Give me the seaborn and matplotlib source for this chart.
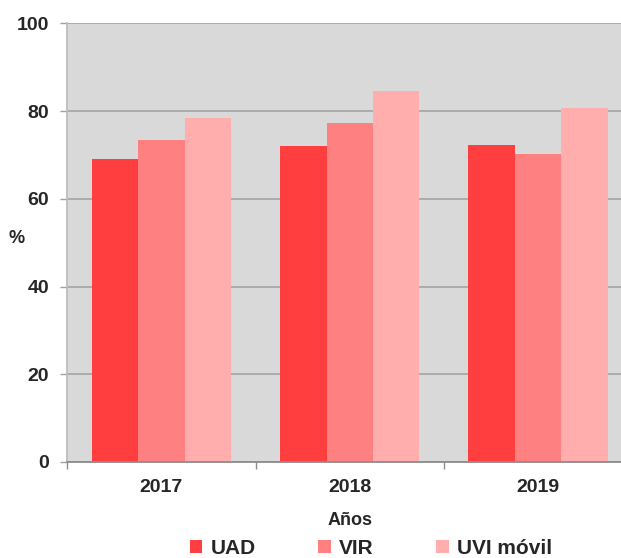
import matplotlib
matplotlib.use("Agg")
import matplotlib.pyplot as plt
import seaborn as sns
import pandas as pd
from matplotlib.patches import Patch

years = ["2017", "2018", "2019"]
series = ["UAD", "VIR", "UVI móvil"]
uad = [69.1, 72.0, 72.2]
vir = [73.3, 77.3, 70.3]
uvi = [78.4, 84.6, 80.7]
yticks = [0, 20, 40, 60, 80, 100]
colors = ["#FF3F3F", "#FF8080", "#FFADAD"]

rows = []
for name, vals in zip(series, [uad, vir, uvi]):
    for y, v in zip(years, vals):
        rows.append({"Año": y, "Serie": name, "Valor": v})
df = pd.DataFrame(rows)

sns.set_theme(style="white")
plt.rcParams["font.family"] = ["Liberation Sans", "DejaVu Sans"]
plt.rcParams["font.weight"] = "bold"

fig = plt.figure(figsize=(6.21, 5.58), dpi=100)
W, H = 621, 558
ax = fig.add_axes([67.3 / W, 1 - 462 / H, (632.3 - 67.3) / W, (462 - 23.3) / H])
ax.set_facecolor("#D9D9D9")

sns.barplot(data=df, x="Año", y="Valor", hue="Serie", palette=colors,
            width=0.74, gap=0, linewidth=0, saturation=1, ax=ax, legend=False)

ax.set_xlim(-0.5, 2.5)
ax.set_ylim(0, 100)
ax.set_yticks(yticks)
ax.set_yticklabels([str(t) for t in yticks], fontsize=14, fontweight="bold")
ax.yaxis.grid(True, color="#A3A3A3", linewidth=1.2)
ax.set_axisbelow(True)

ax.set_xticks([0, 1, 2])
ax.set_xticklabels(years, fontsize=14, fontweight="bold")
ax.set_xticks([-0.5, 0.5, 1.5, 2.5], minor=True)
ax.tick_params(axis="x", which="major", length=0, pad=12)
ax.tick_params(axis="x", which="minor", length=5, width=1, color="#8C8C8C", bottom=True)
ax.tick_params(axis="y", which="major", length=5, width=1, color="#A0A0A0", left=True, pad=8)

for s in ["top", "right"]:
    ax.spines[s].set_visible(False)
ax.spines["left"].set_color("#BDBDBD")
ax.spines["left"].set_linewidth(1.3)
ax.spines["bottom"].set_color("#8C8C8C")
ax.spines["bottom"].set_linewidth(1.3)

ax.set_xlabel("Años", fontsize=13, fontweight="bold", labelpad=12)
ax.set_ylabel("%", fontsize=13, fontweight="bold", rotation=0, labelpad=0)
ax.yaxis.set_label_coords(-0.09, 0.49)

handles = [Patch(facecolor=c, edgecolor="none") for c in colors]
fig.legend(handles, series, loc="center", bbox_to_anchor=(371 / W, 1 - 548 / H),
           ncol=3, frameon=False, prop={"size": 15, "weight": "bold"},
           handlelength=0.6, handleheight=0.6, handletextpad=0.4, columnspacing=3.0,
           borderpad=0)

fig.savefig("out.png", dpi=100)
